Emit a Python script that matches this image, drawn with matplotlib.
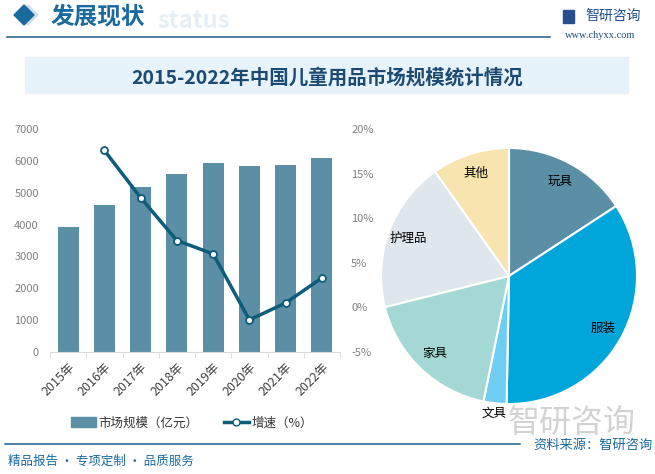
import numpy as np
import matplotlib.pyplot as plt
from matplotlib.patches import Polygon, Rectangle
from matplotlib.lines import Line2D

plt.rcParams['font.family'] = ['Noto Sans CJK SC', 'DejaVu Sans']

# market size (100 million yuan) and growth rate (%)
years = ['2015年', '2016年', '2017年', '2018年', '2019年', '2020年', '2021年', '2022年']
market_size = [3920, 4610, 5180, 5590, 5930, 5840, 5870, 6090]
growth = [np.nan, 17.6, 12.3, 7.5, 6.0, -1.4, 0.5, 3.3]

# product structure (%)
pie_labels = ['玩具', '服装', '文具', '家具', '护理品', '其他']
pie_values = [15.8, 34.5, 2.9, 17.9, 19.1, 9.8]
pie_colors = ['#5b8fa6', '#00a5da', '#6fcdf3', '#a3d8d4', '#dfe6ec', '#f8e4af']

W, H = 655, 474
bar_color = '#5b8fa6'
line_color = '#0d5c7a'
blue = '#1b6a9e'


def fx(x):
    return x / W


def fy(y):
    return 1 - y / H


fig = plt.figure(figsize=(W / 100, H / 100), dpi=100)

# ---- header ----
fig.patches.append(Polygon([(fx(28), fy(5)), (fx(38), fy(15)), (fx(28), fy(25)), (fx(18), fy(15))],
                           closed=True, transform=fig.transFigure, color='#cfe1ee', zorder=1))
fig.patches.append(Polygon([(fx(24), fy(5)), (fx(34), fy(15)), (fx(24), fy(25)), (fx(14), fy(15))],
                           closed=True, transform=fig.transFigure, color='#1b6a9e', zorder=2))
fig.text(fx(157), fy(21), 'status', fontsize=17, fontweight='bold', color='#e6eff6',
         va='center', ha='left', zorder=1)
fig.text(fx(51), fy(16), '发展现状', fontsize=17, fontweight='bold', color=blue,
         va='center', ha='left', zorder=3)
fig.add_artist(Line2D([fx(7), fx(550)], [fy(37), fy(37)], color='#1a5d8a', lw=1.1))

# logo
fig.patches.append(Rectangle((fx(563), fy(23)), 11 / W, 13 / H, transform=fig.transFigure,
                             color='#2a4f8f'))
fig.text(fx(585), fy(16), '智研咨询', fontsize=10, color='#1f4e8c', va='center', ha='left')
fig.text(fx(600), fy(36), 'www.chyxx.com', fontsize=7.5, family='Liberation Serif',
         color='#1f4e79', va='center', ha='center')

# title box
fig.patches.append(Rectangle((fx(25), fy(93)), 603 / W, 36 / H, transform=fig.transFigure,
                             color='#e6f3fb', zorder=0))
fig.text(fx(327), fy(78), '2015-2022年中国儿童用品市场规模统计情况', fontsize=14,
         fontweight='bold', color='#1d4a72', va='center', ha='center')

# ---- bar + line chart ----
ax = fig.add_axes([fx(50), fy(352), 290 / W, 223 / H])
x = np.arange(len(years))
ax.bar(x, market_size, width=0.58, color=bar_color, zorder=2)
ax.set_ylim(0, 7000)
ax.set_yticks(range(0, 7001, 1000))
ax.set_xlim(-0.5, len(years) - 0.5)
ax.set_xticks(x)
ax.set_xticklabels(years, rotation=45, ha='right', rotation_mode='anchor', fontsize=9,
                   color='#404040')
ax.set_xticks(np.arange(-0.5, len(years), 1), minor=True)
ax.tick_params(axis='x', which='major', length=0, pad=6)
ax.tick_params(axis='x', which='minor', length=4, color='#d9d9d9')
ax.tick_params(axis='y', length=0, labelsize=8, labelcolor='#808080', pad=8)
for s in ['top', 'right', 'left']:
    ax.spines[s].set_visible(False)
ax.spines['bottom'].set_color('#d9d9d9')

ax2 = ax.twinx()
ax2.plot(x, growth, color=line_color, lw=2.5, marker='o', markersize=5,
         markerfacecolor='white', markeredgecolor=line_color, markeredgewidth=1.3, zorder=3)
ax2.set_ylim(-5, 20)
ax2.set_yticks(range(-5, 21, 5))
ax2.set_yticklabels([f'{v}%' for v in range(-5, 21, 5)])
ax2.tick_params(axis='y', length=0, labelsize=8, labelcolor='#808080', pad=8)
for s in ['top', 'right', 'left', 'bottom']:
    ax2.spines[s].set_visible(False)

h1 = Rectangle((0, 0), 1, 1, color=bar_color)
h2 = Line2D([], [], color=line_color, lw=2.5, marker='o', markersize=5,
            markerfacecolor='white', markeredgecolor=line_color)
fig.legend([h1, h2], ['市场规模（亿元）', '增速（%）'], loc='center',
           bbox_to_anchor=(fx(192), fy(423)), ncol=2, frameon=False, fontsize=9,
           handlelength=2.0, handleheight=0.8, handletextpad=0.2, columnspacing=2.0,
           labelcolor='#333333')

# ---- watermark bottom right ----
fig.text(fx(572), fy(423), '智研咨询', fontsize=23, color='#d2d2d2', va='center', ha='center',
         zorder=0)

# ---- pie ----
pax = fig.add_axes([fx(381), fy(404), 256 / W, 256 / H])
wedges, _ = pax.pie(pie_values, colors=pie_colors, startangle=90, counterclock=False,
                    radius=1, wedgeprops=dict(edgecolor='white', linewidth=1.5))
pax.set_xlim(-1, 1)
pax.set_ylim(-1, 1)
for w, lab in zip(wedges, pie_labels):
    mid = np.deg2rad((w.theta1 + w.theta2) / 2)
    d = 1.08 if lab == '文具' else 0.84
    pax.text(d * np.cos(mid), d * np.sin(mid), lab, ha='center', va='center', fontsize=9,
             color='black', zorder=5)

# ---- footer ----
fig.add_artist(Line2D([fx(5), fx(520)], [fy(444), fy(444)], color='#1a5d8a', lw=1.1))
fig.text(fx(533), fy(445), '资料来源：智研咨询', fontsize=9.5, color=blue, va='center', ha='left')
fig.text(fx(8), fy(461), '精品报告 · 专项定制 · 品质服务', fontsize=9, color=blue,
         va='center', ha='left')

fig.savefig('out.png', dpi=100)
